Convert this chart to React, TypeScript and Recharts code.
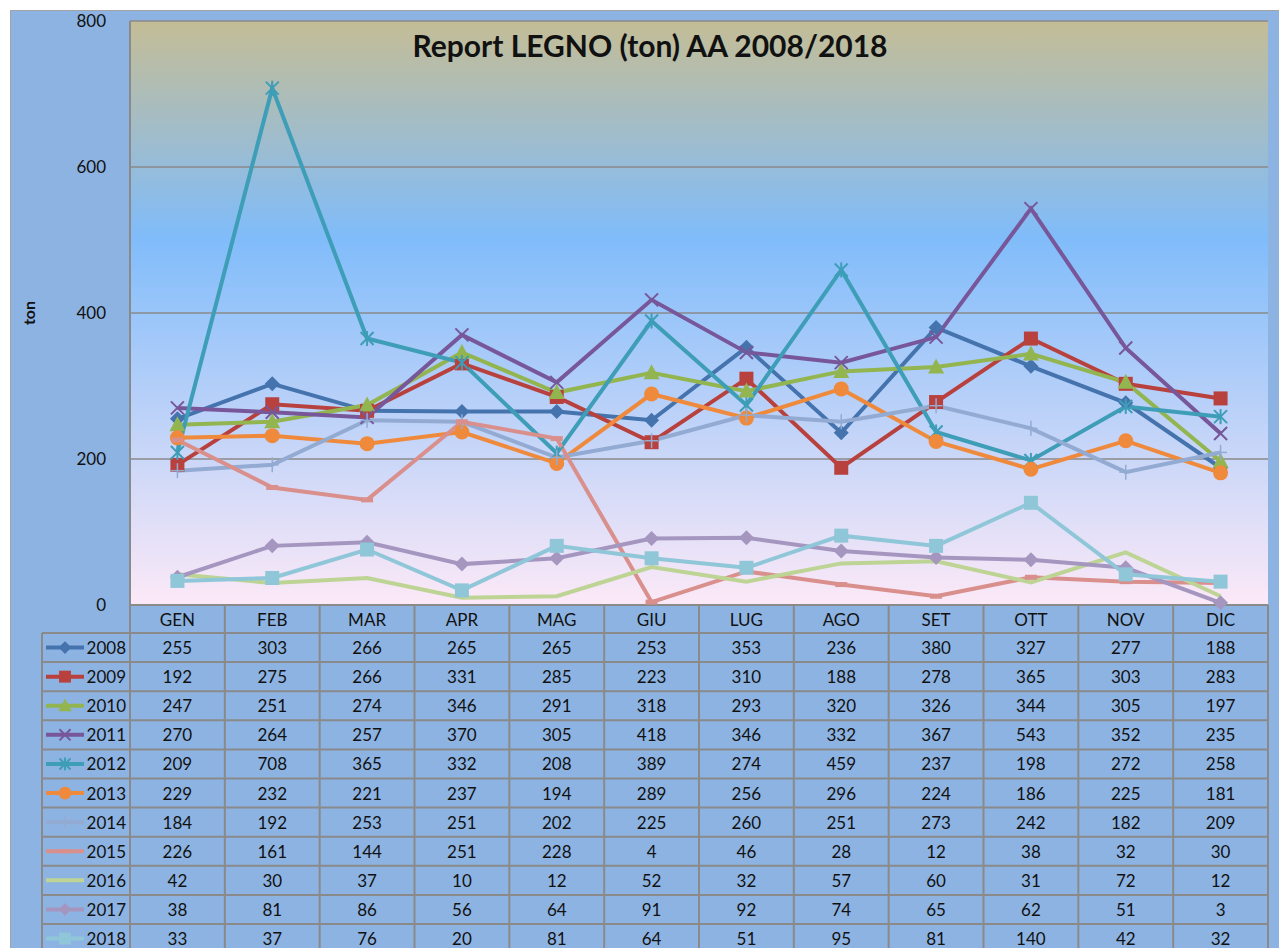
import { LineChart, Line, XAxis, YAxis, CartesianGrid } from 'recharts'

const months = ['GEN', 'FEB', 'MAR', 'APR', 'MAG', 'GIU', 'LUG', 'AGO', 'SET', 'OTT', 'NOV', 'DIC']
const years = ['2008', '2009', '2010', '2011', '2012', '2013', '2014', '2015', '2016', '2017', '2018']

const v2008 = [255, 303, 266, 265, 265, 253, 353, 236, 380, 327, 277, 188]
const v2009 = [192, 275, 266, 331, 285, 223, 310, 188, 278, 365, 303, 283]
const v2010 = [247, 251, 274, 346, 291, 318, 293, 320, 326, 344, 305, 197]
const v2011 = [270, 264, 257, 370, 305, 418, 346, 332, 367, 543, 352, 235]
const v2012 = [209, 708, 365, 332, 208, 389, 274, 459, 237, 198, 272, 258]
const v2013 = [229, 232, 221, 237, 194, 289, 256, 296, 224, 186, 225, 181]
const v2014 = [184, 192, 253, 251, 202, 225, 260, 251, 273, 242, 182, 209]
const v2015 = [226, 161, 144, 251, 228, 4, 46, 28, 12, 38, 32, 30]
const v2016 = [42, 30, 37, 10, 12, 52, 32, 57, 60, 31, 72, 12]
const v2017 = [38, 81, 86, 56, 64, 91, 92, 74, 65, 62, 51, 3]
const v2018 = [33, 37, 76, 20, 81, 64, 51, 95, 81, 140, 42, 32]

const yTicks = [0, 200, 400, 600, 800]

const seriesValues = [v2008, v2009, v2010, v2011, v2012, v2013, v2014, v2015, v2016, v2017, v2018]
const colors = ['#4473ad', '#b8413e', '#93b550', '#77579a', '#3e9db7', '#ef8a3c', '#93abd2', '#d98f8c', '#bdd494', '#a596c0', '#8fc6d8']
const shapes = ['diamond', 'square', 'triangle', 'x', 'star', 'circle', 'plus', 'dash', 'none', 'diamond', 'square']

const data = months.map((m, i) => {
  const row: Record<string, number | string> = { month: m }
  years.forEach((y, k) => { row[y] = seriesValues[k][i] })
  return row
})

const FONT = 'Lato, "Open Sans", sans-serif'
const W = 1279
const H = 948
const PL = 130
const PR = 1268
const PT = 21
const PB = 605
const colW = (PR - PL) / months.length
const rowH = 29.1
const tableTop = 633

function Marker({ cx, cy, shape, color, s = 1 }: { cx: number; cy: number; shape: string; color: string; s?: number }) {
  if (cx == null || cy == null) return null
  switch (shape) {
    case 'diamond':
      return <polygon points={`${cx},${cy - 7.5 * s} ${cx + 7.5 * s},${cy} ${cx},${cy + 7.5 * s} ${cx - 7.5 * s},${cy}`} fill={color} />
    case 'square':
      return <rect x={cx - 7 * s} y={cy - 7 * s} width={14 * s} height={14 * s} fill={color} />
    case 'triangle':
      return <polygon points={`${cx},${cy - 8.5 * s} ${cx + 8 * s},${cy + 6.5 * s} ${cx - 8 * s},${cy + 6.5 * s}`} fill={color} />
    case 'x':
      return (
        <g stroke={color} strokeWidth={2}>
          <line x1={cx - 6.5 * s} y1={cy - 6.5 * s} x2={cx + 6.5 * s} y2={cy + 6.5 * s} />
          <line x1={cx - 6.5 * s} y1={cy + 6.5 * s} x2={cx + 6.5 * s} y2={cy - 6.5 * s} />
        </g>
      )
    case 'star':
      return (
        <g stroke={color} strokeWidth={2}>
          <line x1={cx - 6.5 * s} y1={cy - 6.5 * s} x2={cx + 6.5 * s} y2={cy + 6.5 * s} />
          <line x1={cx - 6.5 * s} y1={cy + 6.5 * s} x2={cx + 6.5 * s} y2={cy - 6.5 * s} />
          <line x1={cx} y1={cy - 7.5 * s} x2={cx} y2={cy + 7.5 * s} />
        </g>
      )
    case 'circle':
      return <circle cx={cx} cy={cy} r={7.5 * s} fill={color} />
    case 'plus':
      return (
        <g stroke={color} strokeWidth={1.5}>
          <line x1={cx} y1={cy - 7.5 * s} x2={cx} y2={cy + 7.5 * s} />
          <line x1={cx - 6.5 * s} y1={cy} x2={cx + 6.5 * s} y2={cy} />
        </g>
      )
    case 'dash':
      return <rect x={cx - 6 * s} y={cy - 2.5 * s} width={12 * s} height={5 * s} fill={color} />
    default:
      return null
  }
}

function MonthTick(props: any) {
  const { x, y, payload } = props
  return (
    <text x={x} y={y + 14} textAnchor="middle" dominantBaseline="central" fontSize={17} fontFamily={FONT} fill="#111">
      {payload.value}
    </text>
  )
}

function DataTable() {
  const bottom = H
  return (
    <svg width={W} height={H} style={{ position: 'absolute', left: 0, top: 0, pointerEvents: 'none' }}>
      <g stroke="#8a8a8a" strokeWidth={2}>
        {months.map((_, c) => (
          <line key={'v' + c} x1={PL + c * colW} y1={PB} x2={PL + c * colW} y2={bottom} />
        ))}
        <line x1={PR} y1={PB} x2={PR} y2={bottom} />
        <line x1={42} y1={tableTop} x2={42} y2={bottom} />
        {years.map((_, r) => (
          <line key={'h' + r} x1={42} y1={tableTop + r * rowH} x2={PR} y2={tableTop + r * rowH} />
        ))}
      </g>
      {years.map((y, r) => {
        const cy = tableTop + r * rowH + rowH / 2
        return (
          <g key={y}>
            <line x1={46} y1={cy} x2={84} y2={cy} stroke={colors[r]} strokeWidth={4} />
            <Marker cx={65} cy={cy} shape={shapes[r]} color={colors[r]} s={0.85} />
            <text x={126} y={cy} textAnchor="end" dominantBaseline="central" fontSize={17} fontFamily={FONT} fill="#111">{y}</text>
            {seriesValues[r].map((v, c) => (
              <text key={c} x={PL + c * colW + colW / 2} y={cy} textAnchor="middle" dominantBaseline="central" fontSize={17} fontFamily={FONT} fill="#111">
                {v}
              </text>
            ))}
          </g>
        )
      })}
      <text x={0} y={0} transform="translate(28,313) rotate(-90)" textAnchor="middle" dominantBaseline="central" fontSize={16} fontWeight="bold" fontFamily={FONT} fill="#111">ton</text>
      <text x={650} y={45} textAnchor="middle" dominantBaseline="central" fontSize={30} fontWeight="bold" fontFamily={FONT} fill="#111">Report LEGNO (ton) AA 2008/2018</text>
    </svg>
  )
}

export default function App() {
  return (
    <div style={{ position: 'absolute', left: 0, top: 0, width: W, height: H, overflow: 'hidden', background: '#fff' }}>
      <div style={{ position: 'absolute', left: 10, top: 10, width: W - 10, height: H - 10, background: '#8db3e2', borderTop: '1px solid #a3a3a3', borderLeft: '1px solid #a3a3a3', boxSizing: 'border-box' }} />
      <div style={{ position: 'absolute', left: 0, top: 0 }}>
        <LineChart width={W} height={H} data={data} margin={{ top: PT, left: 0, right: W - PR, bottom: 0 }}>
          <defs>
            <linearGradient id="plotBg" x1="0" y1="0" x2="0" y2="1">
              <stop offset="0%" stopColor="#c4bd96" />
              <stop offset="37%" stopColor="#80bcfa" />
              <stop offset="100%" stopColor="#fce9f7" />
            </linearGradient>
          </defs>
          <CartesianGrid vertical={false} fill="url(#plotBg)" fillOpacity={1} stroke="#8a8a8a" strokeWidth={1.5} />
          <XAxis dataKey="month" scale="band" axisLine={{ stroke: '#8a8a8a', strokeWidth: 2 }} tickLine={false} tickSize={0} tickMargin={0} tick={<MonthTick />} interval={0} height={H - PB} />
          <YAxis domain={[0, 800]} ticks={yTicks} width={PL} axisLine={{ stroke: '#8a8a8a', strokeWidth: 2 }} tickLine={false} tickMargin={18} tick={{ fontSize: 17, fontFamily: FONT, fill: '#111' }} />
          {years.map((y, k) => (
            <Line
              key={y}
              dataKey={y}
              type="linear"
              stroke={colors[k]}
              strokeWidth={4}
              isAnimationActive={false}
              dot={(p: any) => <Marker key={y + '-' + p.index} cx={p.cx} cy={p.cy} shape={shapes[k]} color={colors[k]} />}
              activeDot={false}
            />
          ))}
        </LineChart>
      </div>
      <DataTable />
    </div>
  )
}
